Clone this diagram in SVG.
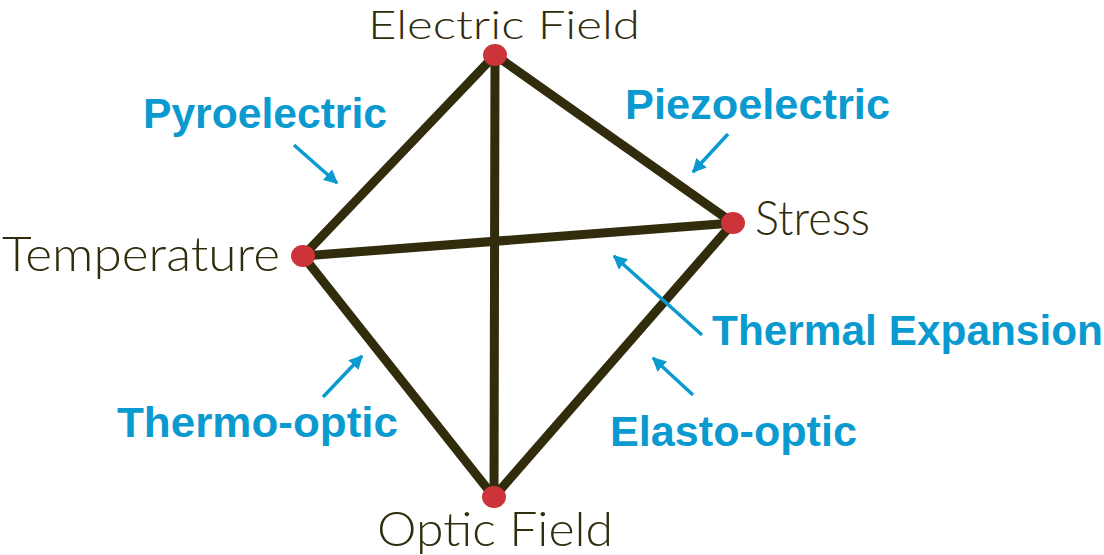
<svg xmlns="http://www.w3.org/2000/svg" width="1104" height="555" viewBox="0 0 1104 555">
<style>
.edge{stroke:#302c0c;stroke-width:9;fill:none;stroke-linecap:round}
.dot{fill:#cc3439}
.lbl{font-family:"Lato","Liberation Sans",sans-serif;font-weight:300;font-size:47px;fill:#302c0c}
.eff{font-family:"Liberation Sans","Arial",sans-serif;font-weight:bold;font-size:42px;fill:#0a9ad0}
.arr{stroke:#0a9ad0;stroke-width:3.5;fill:none;marker-end:url(#ah)}
</style>
<defs>
<marker id="ah" viewBox="0 0 10 10" refX="9" refY="5" markerWidth="4" markerHeight="4" orient="auto" markerUnits="strokeWidth">
<path d="M0,0 L10,5 L0,10 Z" fill="#0a9ad0"/>
</marker>
</defs>
<rect width="1104" height="555" fill="#ffffff"/>
<g id="connectors">
<line class="edge" x1="495" y1="55" x2="303" y2="256"/>
<line class="edge" x1="495" y1="55" x2="733" y2="223"/>
<line class="edge" x1="495" y1="55" x2="494" y2="497"/>
<line class="edge" x1="303" y1="256" x2="733" y2="223"/>
<line class="edge" x1="303" y1="256" x2="494" y2="497"/>
<line class="edge" x1="733" y1="223" x2="494" y2="497"/>
</g>
<g id="effects">
<g id="pyroelectric">
<text class="eff" x="143" y="128" textLength="244" lengthAdjust="spacingAndGlyphs">Pyroelectric</text>
<line class="arr" x1="294" y1="145" x2="337" y2="183"/>
</g>
<g id="piezoelectric">
<text class="eff" x="625" y="119" textLength="265" lengthAdjust="spacingAndGlyphs">Piezoelectric</text>
<line class="arr" x1="728" y1="134" x2="693" y2="172"/>
</g>
<g id="thermal-expansion">
<text class="eff" x="712" y="345" textLength="391" lengthAdjust="spacingAndGlyphs">Thermal Expansion</text>
<line class="arr" x1="702" y1="335" x2="614" y2="256"/>
</g>
<g id="elasto-optic">
<text class="eff" x="610" y="446" textLength="247" lengthAdjust="spacingAndGlyphs">Elasto-optic</text>
<line class="arr" x1="693" y1="395" x2="653" y2="358"/>
</g>
<g id="thermo-optic">
<text class="eff" x="117" y="437" textLength="281" lengthAdjust="spacingAndGlyphs">Thermo-optic</text>
<line class="arr" x1="323" y1="397" x2="362" y2="356"/>
</g>
</g>
<g id="node-electric">
<ellipse class="dot" cx="495" cy="55" rx="12" ry="11"/>
<text class="lbl" x="368" y="39" textLength="272" lengthAdjust="spacingAndGlyphs" style="font-size:40px">Electric Field</text>
</g>
<g id="node-stress">
<ellipse class="dot" cx="733" cy="223" rx="12" ry="11"/>
<text class="lbl" x="755" y="235" textLength="115" lengthAdjust="spacingAndGlyphs">Stress</text>
</g>
<g id="node-temperature">
<ellipse class="dot" cx="303" cy="256" rx="12" ry="11"/>
<text class="lbl" x="2" y="271" textLength="278" lengthAdjust="spacingAndGlyphs">Temperature</text>
</g>
<g id="node-optic">
<ellipse class="dot" cx="494" cy="497" rx="12" ry="11"/>
<text class="lbl" x="377" y="546" textLength="236" lengthAdjust="spacingAndGlyphs">Optic Field</text>
</g>
</svg>
